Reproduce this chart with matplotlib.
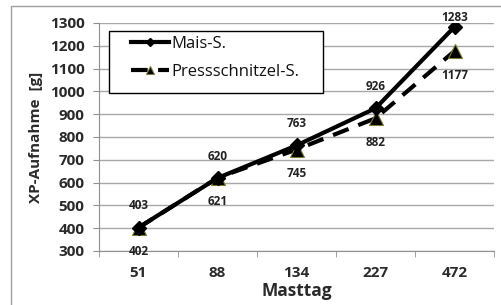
import matplotlib.pyplot as plt
from matplotlib.patches import Rectangle
import numpy as np

# data
masttag = ["51", "88", "134", "227", "472"]
mais = [403, 620, 763, 926, 1283]
pressschnitzel = [402, 621, 745, 882, 1177]

plt.rcParams['font.family'] = ['Open Sans', 'DejaVu Sans']

W, H = 502, 305
fig = plt.figure(figsize=(W / 100, H / 100), dpi=100)
ax_l, ax_r, ax_t, ax_b = 99, 494, 23, 251
ax = fig.add_axes([ax_l / W, 1 - ax_b / H, (ax_r - ax_l) / W, (ax_b - ax_t) / H])

# outer chart frame (only left and top edges visible)
fig.patches.append(Rectangle((11 / W, -0.1), 1.2, 1 - 6 / H + 0.1, transform=fig.transFigure,
                             fill=False, edgecolor='#a0a0a0', linewidth=1))

x = np.arange(len(masttag))
ax.plot(x, pressschnitzel, color='black', linewidth=3, linestyle=(0, (4, 2.5)),
        marker='^', markersize=10, markeredgecolor='#7a7a30', markeredgewidth=0.8,
        label='Pressschnitzel-S.', zorder=3)
ax.plot(x, mais, color='black', linewidth=3, marker='D', markersize=7.5,
        label='Mais-S.', zorder=4)

# data labels: px -> data units
px = 1000 / (ax_b - ax_t)
for xi, v in zip(x, mais):
    ax.text(xi, min(v + 22 * px, 1326), str(v), ha='center', va='center',
            fontsize=8.5, fontweight='bold', color='#222222', zorder=5)
for xi, v in zip(x, pressschnitzel):
    ax.text(xi, v - 24 * px, str(v), ha='center', va='center',
            fontsize=8.5, fontweight='bold', color='#222222', zorder=5)

ax.set_xlim(-0.5, len(masttag) - 0.5)
ax.set_ylim(300, 1300)
ax.set_yticks(range(300, 1301, 100))
ax.set_xticks(x)
ax.set_xticklabels(masttag)
ax.set_xticks(np.arange(-0.5, len(masttag)), minor=True)
ax.tick_params(axis='x', which='major', length=0, pad=11, labelsize=11)
ax.tick_params(axis='x', which='minor', length=4.5, color='#909090')
ax.tick_params(axis='y', length=4.5, color='#909090', labelsize=11, pad=6)
for lbl in ax.get_xticklabels() + ax.get_yticklabels():
    lbl.set_fontweight('bold')
    lbl.set_color('#2a2a2a')

ax.grid(axis='y', color='#a8a8a8', linewidth=1)
ax.set_axisbelow(True)
for s in ['top', 'right']:
    ax.spines[s].set_visible(False)
ax.spines['left'].set_color('#909090')
ax.spines['bottom'].set_color('#909090')

ax.set_xlabel('Masttag', fontsize=12.5, fontweight='bold', color='#2a2a2a', labelpad=1)
ax.set_ylabel('XP-Aufnahme  [g]', fontsize=11, fontweight='bold', color='#2a2a2a', labelpad=5)

# legend: frame drawn separately to match the reference box
aw, ah = ax_r - ax_l, ax_b - ax_t
ax.add_patch(Rectangle(((109 - ax_l) / aw, (ax_b - 93) / ah), 214 / aw, 62 / ah,
                       transform=ax.transAxes, facecolor='white', edgecolor='black',
                       linewidth=1, zorder=6))
handles, labels = ax.get_legend_handles_labels()
leg = ax.legend(handles[::-1], labels[::-1], loc='upper left',
                bbox_to_anchor=((131 - ax_l) / aw, 1 - (36 - ax_t) / ah),
                borderaxespad=0, borderpad=0, frameon=False, fontsize=12,
                handlelength=2.3, labelspacing=0.7, handletextpad=0.15, markerscale=0.6)
leg.set_zorder(7)
for t in leg.get_texts():
    t.set_color('#111111')

fig.savefig('out.png', dpi=100)
